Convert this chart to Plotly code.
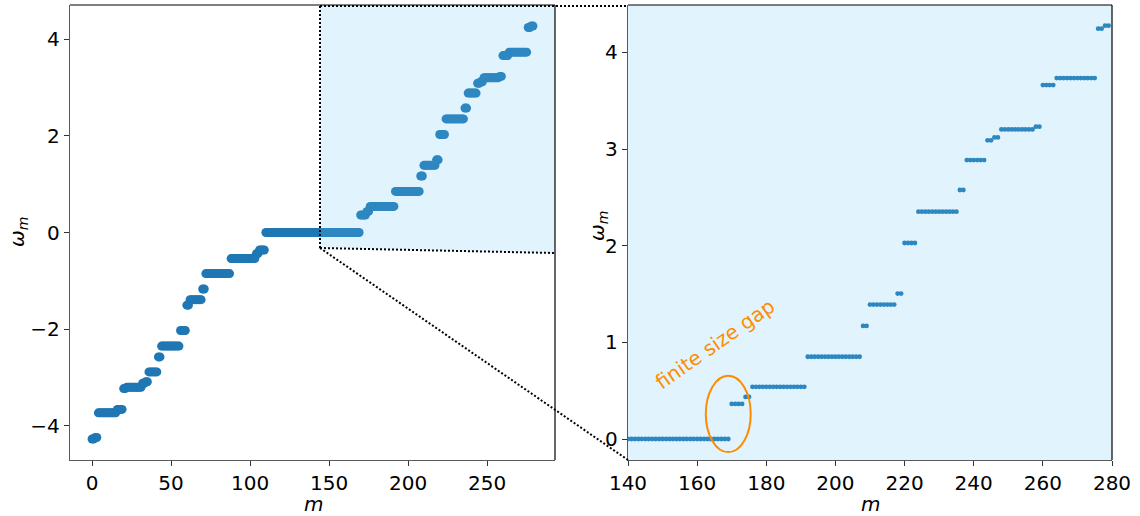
import numpy as np
import plotly.graph_objects as go

# Spectrum plateaus: level value and how many modes sit on it (m = 0 .. 279)
plateau_levels = [
    -4.276, -4.245, -3.734, -3.662, -3.231, -3.203, -3.120, -3.090, -2.886, -2.576,
    -2.352, -2.028, -1.505, -1.391, -1.170, -0.851, -0.540, -0.436, -0.363,
    0.0,
    0.363, 0.436, 0.540, 0.851, 1.170, 1.391, 1.505, 2.028, 2.352, 2.576,
    2.886, 3.090, 3.120, 3.203, 3.231, 3.662, 3.734, 4.245, 4.276,
]
plateau_counts = [
    2, 2, 12, 4, 2, 10, 2, 2, 6, 2,
    12, 4, 2, 8, 2, 16, 16, 2, 4,
    60,
    4, 2, 16, 16, 2, 8, 2, 4, 12, 2,
    6, 2, 2, 10, 2, 4, 12, 2, 2,
]
omega = np.repeat(plateau_levels, plateau_counts)
m = np.arange(len(omega))

left_xticks = [0, 50, 100, 150, 200, 250]
left_yticks = [-4, -2, 0, 2, 4]
right_xticks = [140, 160, 180, 200, 220, 240, 260, 280]
right_yticks = [0, 1, 2, 3, 4]

W, H = 1140, 516
FONT = "DejaVu Sans"
BLUE = "#1f77b4"
ZOOM_TINT = "rgba(105,198,245,0.2)"
ORANGE = "#ff8c00"


def px(x):
    return x / W


def py(y):
    return 1 - y / H


fig = go.Figure()
fig.add_trace(go.Scatter(x=m, y=omega, mode="markers", xaxis="x", yaxis="y",
                         marker=dict(color=BLUE, size=9, line=dict(width=0)),
                         showlegend=False, hoverinfo="x+y"))
sel = m >= 140
fig.add_trace(go.Scatter(x=m[sel], y=omega[sel], mode="markers", xaxis="x2", yaxis="y2",
                         marker=dict(color=BLUE, size=4.8, line=dict(width=0)),
                         showlegend=False, hoverinfo="x+y"))

axis_common = dict(
    showline=True, linecolor="#5a5a5a", linewidth=1.3, mirror=False,
    ticks="outside", ticklen=5, tickwidth=1, tickcolor="#333",
    showgrid=False, zeroline=False, automargin=False,
    tickfont=dict(family=FONT, size=20, color="black"),
)

fig.update_layout(
    width=W, height=H, autosize=False,
    margin=dict(l=0, r=0, t=0, b=0, autoexpand=False),
    paper_bgcolor="white", plot_bgcolor="white",
    xaxis=dict(domain=[px(70), px(555)], range=[-13.95, 292.95],
               tickvals=left_xticks, anchor="y", **axis_common),
    yaxis=dict(domain=[py(460), py(5)], range=[-4.71, 4.71],
               tickvals=left_yticks, anchor="x", **axis_common),
    xaxis2=dict(domain=[px(628), px(1112)], range=[140, 280],
                tickvals=right_xticks, anchor="y2", **axis_common),
    yaxis2=dict(domain=[py(460), py(5)], range=[-0.217, 4.49],
                tickvals=right_yticks, anchor="x2", **axis_common),
)

shapes = []
# zoomed region tint (left panel) and full tint of the zoom panel
shapes.append(dict(type="path", xref="paper", yref="paper", layer="above",
                   path=f"M {px(320)},{py(5)} L {px(555)},{py(5)} L {px(555)},{py(253)} "
                        f"L {px(320)},{py(248)} Z",
                   fillcolor=ZOOM_TINT, line=dict(width=0)))
shapes.append(dict(type="rect", xref="x2 domain", yref="y2 domain", layer="above",
                   x0=0, x1=1, y0=0, y1=1, fillcolor=ZOOM_TINT, line=dict(width=0)))

# top / right frame lines
for xa, ya in (("x", "y"), ("x2", "y2")):
    shapes.append(dict(type="line", xref=f"{xa} domain", yref=f"{ya} domain", layer="above",
                       x0=0, x1=1, y0=1, y1=1, line=dict(color="black", width=1.2)))
    shapes.append(dict(type="line", xref=f"{xa} domain", yref=f"{ya} domain", layer="above",
                       x0=1, x1=1, y0=0, y1=1, line=dict(color="black", width=1.2)))

# dotted connector lines between the zoom box and the zoom panel
dotted = dict(color="black", width=2, dash="2px,2px")
for (x0, y0, x1, y1) in [
    (320, 6, 320, 248),
    (320, 248, 555, 253),
    (320, 6, 628, 6),
    (320, 248, 628, 460),
]:
    shapes.append(dict(type="line", xref="paper", yref="paper", layer="above",
                       x0=px(x0), y0=py(y0), x1=px(x1), y1=py(y1), line=dotted))

# ellipse around the gap
shapes.append(dict(type="circle", xref="x2", yref="y2", layer="above",
                   x0=162.5, x1=175.5, y0=-0.135, y1=0.655,
                   line=dict(color=ORANGE, width=2), fillcolor="rgba(0,0,0,0)"))
fig.update_layout(shapes=shapes)

title_font = dict(family=FONT, size=20, color="black")
annotations = [
    dict(text="<i>ω</i><sub><i>m</i></sub>", x=px(18), y=py(232), textangle=-90),
    dict(text="<i>ω</i><sub><i>m</i></sub>", x=px(598), y=py(226), textangle=-90),
    dict(text="<i>m</i>", x=px(313), y=py(504)),
    dict(text="<i>m</i>", x=px(870), y=py(504)),
]
for a in annotations:
    fig.add_annotation(xref="paper", yref="paper", showarrow=False,
                       xanchor="center", yanchor="middle", font=title_font, **a)

fig.add_annotation(text="finite size gap", xref="paper", yref="paper",
                   x=px(715), y=py(344), showarrow=False, textangle=-35,
                   xanchor="center", yanchor="middle",
                   font=dict(family=FONT, size=20, color=ORANGE))

fig.write_html("out.html")
